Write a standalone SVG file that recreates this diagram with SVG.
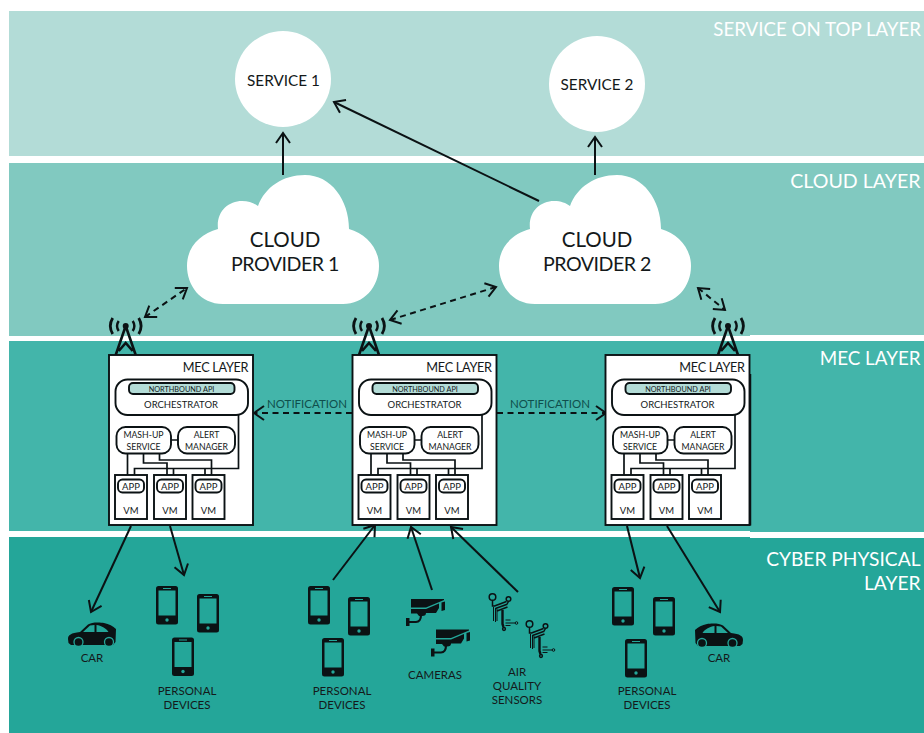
<svg xmlns="http://www.w3.org/2000/svg" width="924" height="733" viewBox="0 0 924 733">
<style>
text{font-family:"Lato","Liberation Sans",sans-serif;fill:#14191a;text-anchor:middle}
.band{fill:#fff;font-size:19.2px;text-anchor:end}
.conn{fill:none;stroke:#0b1214;stroke-width:2;marker-end:url(#ah)}
.dash{fill:none;stroke:#0b1214;stroke-width:2;stroke-dasharray:6 4.5;marker-start:url(#ah2);marker-end:url(#ah)}
.cl{font-size:20.5px}
.pr{font-size:19.6px;letter-spacing:-.5px}
.sv{font-size:15.3px}
.lb{font-size:11.5px}
.box{fill:#fff;stroke:#0b1214;stroke-width:1.9}
.wire{fill:none;stroke:#0b1214;stroke-width:1.7}
.t9{font-size:9.5px}
.t8{font-size:8.7px}
.noti{font-size:11.5px;fill:#0f4f4c}
</style>
<defs>
<marker id="ah" markerUnits="userSpaceOnUse" markerWidth="16" markerHeight="18" refX="13" refY="9" orient="auto"><path d="M3 2 L13 9 L3 16" fill="none" stroke="#0b1214" stroke-width="2"/></marker>
<marker id="ah2" markerUnits="userSpaceOnUse" markerWidth="16" markerHeight="18" refX="3" refY="9" orient="auto"><path d="M13 2 L3 9 L13 16" fill="none" stroke="#0b1214" stroke-width="2"/></marker>
<path id="cloud" fill="#fff" d="M36 129 C13 129 0 110 0 91 C0 72 13 59 31 54 C29 37 41 26 55 26 C62 26 67 28 71 31 C78 12 96 0 118 0 C144 0 162 25 162 54 C179 59 192 73 192 91 C192 112 177 129 156 129 Z"/>
<g id="phone"><rect x="0" y="0" width="22" height="38.5" rx="2.5" fill="#0b1214"/><rect x="2.5" y="4.5" width="17" height="25" fill="#24a699"/><rect x="7" y="2" width="8" height="1" fill="#24a699"/><circle cx="11" cy="34" r="1.7" fill="#24a699"/></g>
<g id="car"><path fill="#0b1214" d="M0 17 C0 13 3 11 12 10 L20 2.5 C23 0 32 0 36 1 C41 2 45 4 48 7 L47.5 20 L45 23 L3 23 L0.5 21 Z"/><path fill="#24a699" d="M15 10 L22 3.5 L26.5 3 L26.5 10 Z M28.5 3 C33 3.5 38 6 40.5 10 L28.5 10 Z"/><circle cx="10.5" cy="20" r="4.5" fill="#0b1214" stroke="#24a699" stroke-width="1.3"/><circle cx="41" cy="20" r="4.5" fill="#0b1214" stroke="#24a699" stroke-width="1.3"/></g>
<g id="camera"><path fill="#0b1214" d="M5 0 H38 V1 L20 8.5 H5 Z M5 10 H20 L33 4.5 V9 L30 14 H20 C20 16 19 17 16 17 H13 L11 14.5 H5 Z M35.5 3.5 L39 2.5 V11 L35.5 12 Z"/><path fill="none" stroke="#0b1214" stroke-width="2.2" d="M15 16 C15 20 13 23 10 23 H3"/><rect x="0" y="19" width="3.5" height="8" fill="#0b1214"/></g>
<g id="sensor" fill="none" stroke="#0b1214"><circle cx="0" cy="0" r="3.3" stroke-width="1.5"/><circle cx="16" cy="2" r="2.3" stroke-width="1.5"/><path stroke-width="1.5" d="M0 3.5 V9 H3 M16 4.5 L14 8 M2 9 L14 4.5 M3 11.5 L14 7.5 M4.5 14 L15 10"/><path stroke-width="1" d="M1 10 V24 M3 11 V25 M4.5 12 V24 M13 23 H18 M13 26 H22.5 M13 28.5 H18"/><path stroke-width="2.4" d="M10 13 V27 L11 30"/><circle cx="11.5" cy="32" r="1.4" stroke-width="1.5"/><circle cx="24" cy="26" r="1.3" stroke-width="1"/></g>
<g id="tower" fill="none" stroke="#0b1214"><path stroke-width="2.6" d="M0 0 L-10 29 M0 0 L10 29 M-7 25 L0 17 L7 25"/><circle cx="0" cy="0" r="3" fill="#0b1214" stroke="none"/><path stroke-width="2.4" d="M-7 -5 C-9 -2 -9 2 -7 5 M7 -5 C9 -2 9 2 7 5"/><path stroke-width="2.8" d="M-13 -8 C-16 -3 -16 3 -13 8 M13 -8 C16 -3 16 3 13 8"/></g>
<g id="mecbox">
<rect class="box" x="109" y="355" width="144" height="170"/>
<text x="215.500" y="371.500" style="font-size:12.7px;letter-spacing:-.3px">MEC LAYER</text>
<rect class="box" x="115.500" y="379.500" width="132.500" height="35.500" rx="12"/>
<rect class="box" x="129" y="383" width="105.500" height="11" rx="4" style="fill:#b3dcd7"/>
<text x="181.500" y="391.500" style="font-size:7.3px">NORTHBOUND API</text>
<text x="181" y="408" class="t9">ORCHESTRATOR</text>
<path class="wire" d="M238.500 415 V468.500 H134.500 V475 M173.500 468.500 V475 M205 468.500 V475 M127.500 453 V475 M143.500 453 V463 H167 V475 M159.500 453 V460 H211.500 V475 M171 440 H178"/>
<rect class="box" x="116.500" y="427" width="54.500" height="26.500" rx="9"/>
<rect class="box" x="178" y="427" width="57" height="26.500" rx="9"/>
<text x="143.500" y="438" class="t8">MASH-UP</text><text x="143.500" y="450" class="t8">SERVICE</text>
<text x="206.500" y="438" class="t8">ALERT</text><text x="206.500" y="450" class="t8">MANAGER</text>
<rect class="box" x="115" y="475" width="32" height="44"/><rect class="box" x="154" y="475" width="32" height="44"/><rect class="box" x="192.500" y="475" width="32" height="44"/>
<rect class="box" x="118" y="479.500" width="26" height="13" rx="4.5"/><rect class="box" x="157" y="479.500" width="26" height="13" rx="4.5"/><rect class="box" x="195.500" y="479.500" width="26" height="13" rx="4.5"/>
<text x="131" y="489.500" class="t9">APP</text><text x="170" y="489.500" class="t9">APP</text><text x="208.500" y="489.500" class="t9">APP</text>
<text x="131" y="514" class="t9">VM</text><text x="170" y="514" class="t9">VM</text><text x="208.500" y="514" class="t9">VM</text>
</g>
</defs>
<g id="background">
<rect x="0" y="0" width="924" height="733" fill="#fff"/>
<rect x="9" y="11" width="915" height="145" fill="#b3dcd7"/>
<rect x="9" y="163" width="915" height="173" fill="#81c9c0"/>
<rect x="9" y="341" width="915" height="191" fill="#43b5aa"/>
<rect x="9" y="537" width="915" height="196" fill="#24a699"/>
<rect x="750" y="335" width="174" height="6" fill="#fff"/>
<rect x="9" y="531" width="741" height="6" fill="#fff"/>
<rect x="750" y="532" width="174" height="6" fill="#fff"/>
</g>
<g id="layer-labels">
<text class="band" x="921" y="36" style="font-size:18.7px">SERVICE ON TOP LAYER</text>
<text class="band" x="920.500" y="188" style="font-size:19.6px">CLOUD LAYER</text>
<text class="band" x="920.500" y="365" style="font-size:18.8px">MEC LAYER</text>
<text class="band" x="920.500" y="566">CYBER PHYSICAL</text>
<text class="band" x="920.500" y="590">LAYER</text>
</g>
<g id="connectors">
<path class="conn" d="M283 175 V133"/>
<path class="conn" d="M595 175 V137"/>
<path class="conn" d="M539 201 L334 102"/>
<path class="dash" d="M145 317 L187 288"/>
<path class="dash" d="M390 320 L496 287"/>
<path class="dash" d="M698 288 L725 310"/>
<path class="conn" d="M352 413 H254" style="stroke-dasharray:6 4.5"/>
<path class="conn" d="M497 413 H606" style="stroke-dasharray:6 4.5"/>
<path class="conn" d="M131 526 L91 612"/>
<path class="conn" d="M170 526 L184 575"/>
<path class="conn" d="M333 580 L375 525"/>
<path class="conn" d="M432 590 L411 527"/>
<path class="conn" d="M518 592 L451 527"/>
<path class="conn" d="M627 526 L640 578"/>
<path class="conn" d="M667 526 L720 612"/>
</g>
<g id="service-1"><circle cx="283" cy="79" r="48" fill="#fff"/><text x="283.500" y="86" class="sv">SERVICE 1</text></g>
<g id="service-2"><circle cx="597" cy="84" r="48" fill="#fff"/><text x="597" y="90" class="sv">SERVICE 2</text></g>
<g id="cloud-1"><use href="#cloud" x="187" y="175"/><text x="285" y="246.500" class="cl">CLOUD</text><text x="285" y="270.500" class="pr">PROVIDER 1</text></g>
<g id="cloud-2"><use href="#cloud" x="499" y="175"/><text x="597" y="246.500" class="cl">CLOUD</text><text x="597" y="270.500" class="pr">PROVIDER 2</text></g>
<g id="tower-1"><use href="#tower" x="125.700" y="326"/></g>
<g id="tower-2"><use href="#tower" x="369" y="326"/></g>
<g id="tower-3"><use href="#tower" x="728" y="326"/></g>
<g id="mec-1"><use href="#mecbox"/></g>
<g id="mec-2"><use href="#mecbox" x="243.500"/></g>
<g id="mec-3"><use href="#mecbox" x="496.500"/><path d="M750.500 374 V525.500" stroke="#0b1214" stroke-width="1.500"/></g>
<text x="307" y="408" class="noti">NOTIFICATION</text>
<text x="550" y="408" class="noti">NOTIFICATION</text>
<g id="car-1"><use href="#car" x="68" y="622"/><text x="92" y="662" class="lb">CAR</text></g>
<g id="devices-1"><use href="#phone" x="156" y="586"/><use href="#phone" x="197" y="594"/><use href="#phone" x="172" y="637.500"/><text x="187" y="695" class="lb">PERSONAL</text><text x="187" y="709" class="lb">DEVICES</text></g>
<g id="devices-2"><use href="#phone" x="308" y="586"/><use href="#phone" x="348" y="597"/><use href="#phone" x="322" y="638"/><text x="342" y="695" class="lb">PERSONAL</text><text x="342" y="709" class="lb">DEVICES</text></g>
<g id="cameras"><use href="#camera" x="406" y="599"/><use href="#camera" x="431" y="629.500"/><text x="435" y="679" class="lb">CAMERAS</text></g>
<g id="air-sensors"><use href="#sensor" x="492.500" y="597"/><use href="#sensor" x="529.500" y="624"/><text x="517" y="676" class="lb">AIR</text><text x="517" y="690" class="lb">QUALITY</text><text x="517" y="704" class="lb">SENSORS</text></g>
<g id="devices-3"><use href="#phone" x="612" y="587"/><use href="#phone" x="653" y="597"/><use href="#phone" x="625" y="639"/><text x="647" y="695" class="lb">PERSONAL</text><text x="647" y="709" class="lb">DEVICES</text></g>
<g id="car-2"><use href="#car" transform="translate(743 623) scale(-1 1)"/><text x="719" y="662" class="lb">CAR</text></g>
</svg>
